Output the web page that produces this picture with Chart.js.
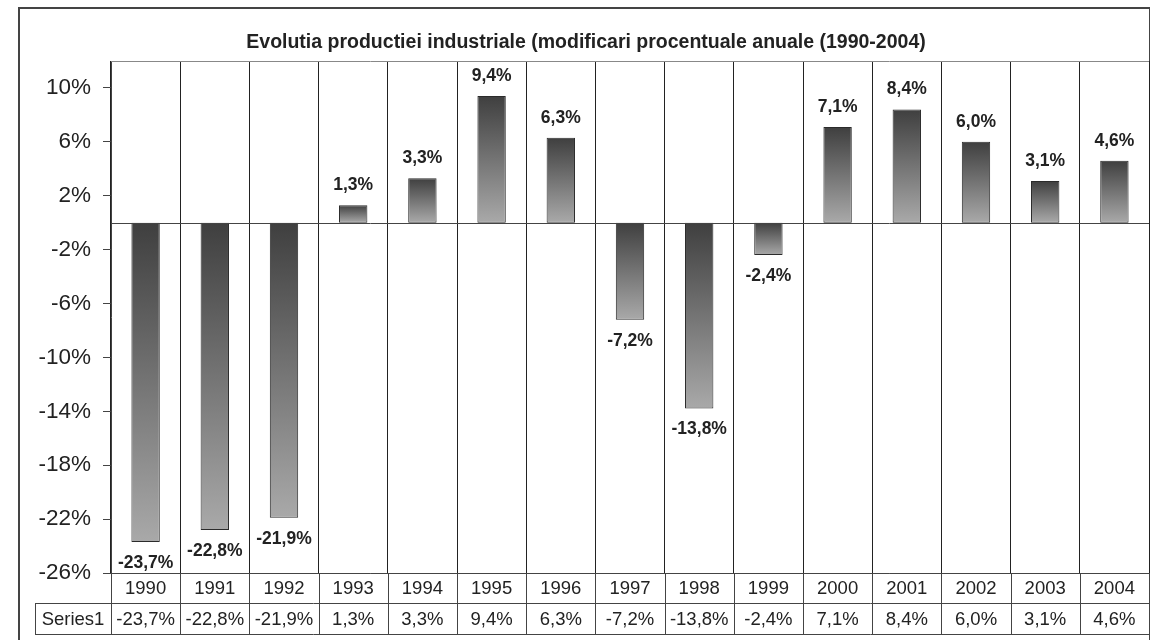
<!DOCTYPE html>
<html>
<head>
<meta charset="utf-8">
<script src="https://cdn.jsdelivr.net/npm/chart.js@4"></script>
<style>
  body { margin: 0; background: #fff; }
  canvas { display: block; }
</style>
</head>
<body>
<canvas id="chart" width="1150" height="640"></canvas>
<script>
const years = ['1990', '1991', '1992', '1993', '1994', '1995', '1996', '1997', '1998', '1999', '2000', '2001', '2002', '2003', '2004'];
const series1 = [-23.7, -22.8, -21.9, 1.3, 3.3, 9.4, 6.3, -7.2, -13.8, -2.4, 7.1, 8.4, 6.0, 3.1, 4.6];
const yTicks = [-26, -22, -18, -14, -10, -6, -2, 2, 6, 10];
const seriesName = 'Series1';
const chartTitle = 'Evolutia productiei industriale (modificari procentuale anuale (1990-2004)';

const fmt = v => v.toFixed(1).replace('.', ',') + '%';
const FONT = '"Liberation Sans", Arial, sans-serif';

// dark at the top of each bar, light at the bottom
function barGradient(context) {
    const chart = context.chart;
    const y = chart.scales.y;
    if (!chart.chartArea || !y) return '#777';
    const v = context.raw;
    const top = y.getPixelForValue(Math.max(v, 0));
    const bot = y.getPixelForValue(Math.min(v, 0));
    const g = chart.ctx.createLinearGradient(0, top, 0, bot);
    g.addColorStop(0, '#3f3f3f');
    g.addColorStop(1, '#a9a9a9');
    return g;
}

// frame, title, zero line, value labels and data table
const decor = {
    id: 'decor',
    beforeDraw(chart) {
        const ctx = chart.ctx;
        ctx.save();
        ctx.fillStyle = '#fff';
        ctx.fillRect(0, 0, chart.width, chart.height);
        ctx.strokeStyle = '#444';
        ctx.lineWidth = 2;
        ctx.strokeRect(19, 8, 1131, 640);
        ctx.fillStyle = '#222';
        ctx.font = 'bold 19.5px ' + FONT;
        ctx.textAlign = 'center';
        ctx.textBaseline = 'middle';
        ctx.fillText(chartTitle, 586, 43);
        ctx.restore();
    },
    afterDatasetsDraw(chart) {
        const ctx = chart.ctx;
        const area = chart.chartArea;
        const x = chart.scales.x;
        const y = chart.scales.y;
        ctx.save();
        ctx.lineWidth = 1;
        // top border of plot
        ctx.strokeStyle = '#888';
        ctx.beginPath();
        ctx.moveTo(area.left, area.top + 0.5);
        ctx.lineTo(area.right, area.top + 0.5);
        ctx.stroke();
        // zero line
        const y0 = Math.round(y.getPixelForValue(0)) + 0.5;
        ctx.strokeStyle = '#444';
        ctx.beginPath();
        ctx.moveTo(area.left, y0);
        ctx.lineTo(area.right, y0);
        ctx.stroke();

        // value labels
        ctx.fillStyle = '#222';
        ctx.font = 'bold 17.5px ' + FONT;
        ctx.textAlign = 'center';
        ctx.textBaseline = 'middle';
        const meta = chart.getDatasetMeta(0);
        meta.data.forEach((el, i) => {
            const v = series1[i];
            const ly = v >= 0 ? el.y - 20 : el.y + 21;
            ctx.fillText(fmt(v), el.x, ly);
        });

        // data table
        const row1 = area.bottom;
        const row2 = row1 + 30;
        const row3 = row2 + 31;
        const leftT = 35;
        const half = (x.getPixelForValue(1) - x.getPixelForValue(0)) / 2;
        ctx.strokeStyle = '#444';
        ctx.beginPath();
        ctx.moveTo(area.left, row1 + 0.5); ctx.lineTo(area.right, row1 + 0.5);
        ctx.moveTo(leftT, row2 + 0.5); ctx.lineTo(area.right, row2 + 0.5);
        ctx.moveTo(leftT, row3 + 0.5); ctx.lineTo(area.right, row3 + 0.5);
        ctx.moveTo(leftT + 0.5, row2); ctx.lineTo(leftT + 0.5, row3);
        ctx.moveTo(area.left + 0.5, row1); ctx.lineTo(area.left + 0.5, row3);
        for (let i = 0; i < years.length; i++) {
            const edge = Math.round(x.getPixelForValue(i) + half) + 0.5;
            ctx.moveTo(edge, row1); ctx.lineTo(edge, row3);
        }
        ctx.stroke();

        ctx.font = '18.5px ' + FONT;
        ctx.fillStyle = '#222';
        years.forEach((yr, i) => {
            const cx = x.getPixelForValue(i);
            ctx.fillText(yr, cx, (row1 + row2) / 2 + 1);
            ctx.fillText(fmt(series1[i]), cx, (row2 + row3) / 2 + 1);
        });
        ctx.fillText(seriesName, (leftT + area.left) / 2, (row2 + row3) / 2 + 1);
        ctx.restore();
    }
};

new Chart(document.getElementById('chart'), {
    type: 'bar',
    data: {
        labels: years,
        datasets: [{
            label: seriesName,
            data: series1,
            backgroundColor: barGradient,
            borderColor: '#2b2b2b',
            borderWidth: 1,
            borderSkipped: false,
            categoryPercentage: 1,
            barPercentage: 0.41
        }]
    },
    options: {
        responsive: false,
        animation: false,
        layout: { padding: { top: 61, right: 1, bottom: 67, left: 0 } },
        plugins: {
            legend: { display: false },
            title: { display: false },
            tooltip: { enabled: false }
        },
        scales: {
            x: {
                grid: { offset: true, color: '#222', drawTicks: false },
                border: { display: true, color: '#888' },
                ticks: { display: false },
                afterFit: s => { s.height = 0; }
            },
            y: {
                min: -26,
                max: 12,
                afterBuildTicks: s => { s.ticks = yTicks.map(v => ({ value: v })); },
                afterFit: s => { s.width = 111; },
                grid: {
                    color: 'transparent',
                    tickColor: '#444',
                    tickLength: 8,
                    drawOnChartArea: false
                },
                border: { display: true, color: '#444' },
                ticks: {
                    padding: 12,
                    color: '#222',
                    font: { family: FONT, size: 22.5 },
                    callback: v => v + '%'
                }
            }
        }
    },
    plugins: [decor]
});
</script>
</body>
</html>
